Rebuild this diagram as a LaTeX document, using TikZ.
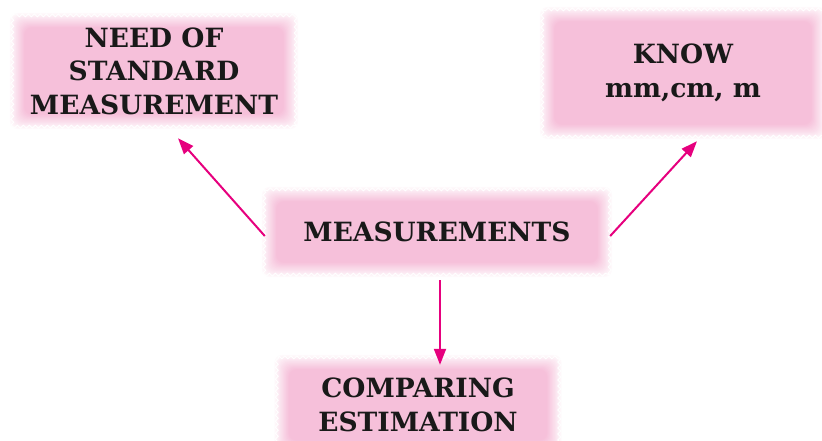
\documentclass[tikz,border=0pt]{standalone}
\usepackage{fontspec}
\setmainfont{DejaVu Serif}
\usetikzlibrary{calc,arrows.meta,backgrounds,decorations.pathmorphing}
\definecolor{boxpink}{RGB}{246,192,218}
\definecolor{arrmag}{RGB}{230,0,126}
\tikzset{
  lbl/.style={font=\bfseries\fontsize{26.5}{33.5}\selectfont, text=black!90, align=center, inner sep=0pt},
  arr/.style={draw=arrmag, line width=2pt, -{Triangle[length=16pt,width=12pt]}},
}
\newcommand\fuzzbg[1]{%
  \foreach \i in {0,...,14}{%
    \pgfmathtruncatemacro\pc{min(100,8+7*\i)}%
    \fill[boxpink!\pc, rounded corners=8pt] ($(#1.south west)+(\i*1.1,-\i*1.1)$) rectangle ($(#1.north east)+(-\i*1.1,\i*1.1)$);
  }
  \draw[decorate, decoration={zigzag,segment length=6pt,amplitude=1.5pt}, white, line width=0.9pt]
    ($(#1.south west)+(2.5,-2.5)$) rectangle ($(#1.north east)+(-2.5,2.5)$);
}
\begin{document}
\begin{tikzpicture}[x=1pt,y=-1pt]
\useasboundingbox (0,0) rectangle (822,440);
\node[lbl, minimum width=288pt, minimum height=116pt] (need) at (154,71) {NEED OF\\STANDARD\\MEASUREMENT};
\node[lbl, minimum width=286pt, minimum height=132pt] (know) at (683,73) {KNOW\\mm,cm, m};
\node[lbl, minimum width=350pt, minimum height=90pt] (meas) at (437,232) {MEASUREMENTS};
\node[lbl, minimum width=287pt, minimum height=100pt] (comp) at (418,405) {COMPARING\\ESTIMATION};
\begin{scope}[on background layer]
  \fuzzbg{need}
  \fuzzbg{know}
  \fuzzbg{meas}
  \fuzzbg{comp}
\end{scope}
\draw[arr] ($(meas.west)+(3,4)$) -- ($(need.south)+(24,9)$);
\draw[arr] ($(meas.east)+(-2,4)$) -- ($(know.south)+(14,2)$);
\draw[arr] ($(meas.south)+(3,3)$) -- ($(comp.north)+(22,10)$);
\end{tikzpicture}
\end{document}
